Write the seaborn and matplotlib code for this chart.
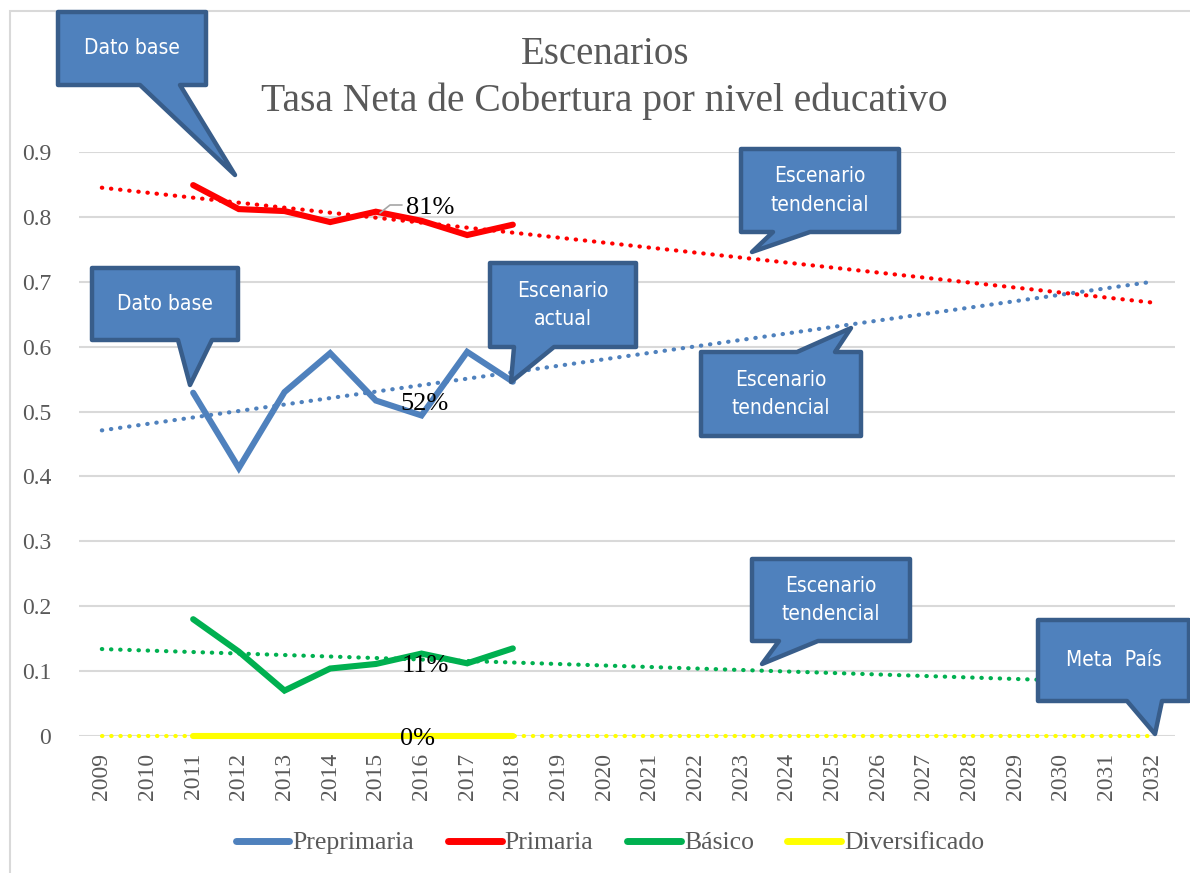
import numpy as np
import pandas as pd
import matplotlib
matplotlib.use("Agg")
import matplotlib.pyplot as plt
from matplotlib.patches import Polygon, Rectangle
from matplotlib.lines import Line2D
import seaborn as sns

# ---------------- data ----------------
years = [str(y) for y in range(2009, 2033)]
data_years = list(range(2011, 2019))
preprimaria = [0.529, 0.413, 0.530, 0.590, 0.517, 0.494, 0.592, 0.546]
primaria = [0.849, 0.812, 0.809, 0.792, 0.808, 0.794, 0.772, 0.788]
basico = [0.180, 0.130, 0.070, 0.104, 0.111, 0.127, 0.112, 0.135]
diversificado = [0.0, 0.0, 0.0, 0.0, 0.0, 0.0, 0.0, 0.0]
series_names = ["Preprimaria", "Primaria", "Básico", "Diversificado"]
series_colors = ["#4F81BD", "#FF0000", "#00B050", "#FFFF00"]
# trend lines at 2009 and 2032
trend_2009 = [0.471, 0.845, 0.134, 0.0]
trend_2032 = [0.700, 0.668, 0.081, 0.0]
pct_labels = ["52%", "81%", "11%", "0%"]
yticks = [0, 0.1, 0.2, 0.3, 0.4, 0.5, 0.6, 0.7, 0.8, 0.9]
ytick_labels = ["0", "0.1", "0.2", "0.3", "0.4", "0.5", "0.6", "0.7", "0.8", "0.9"]
title_lines = ["Escenarios", "Tasa Neta de Cobertura por nivel educativo"]

# ---------------- figure ----------------
sns.set_theme(style="white")
plt.rcParams["font.family"] = ["Liberation Serif", "DejaVu Serif"]
W, H = 1190, 873
fig = plt.figure(figsize=(W / 100, H / 100), dpi=100)
fig.patch.set_facecolor("white")

def fx(x):
    return x / W

def fy(y):
    return 1 - y / H

ax_l, ax_r, ax_t, ax_b = 79, 1175, 152, 736
ax = fig.add_axes([fx(ax_l), fy(ax_b), fx(ax_r) - fx(ax_l), fy(ax_t) - fy(ax_b)])
ax.set_facecolor("white")

# outer border
fig.add_artist(Rectangle((fx(10), fy(873 + 20)), 1.2, fy(11) - fy(893),
                         transform=fig.transFigure, fill=False,
                         edgecolor="#D9D9D9", lw=1.5, zorder=0))

# long-form data
pos = {y: i for i, y in enumerate(range(2009, 2033))}
rows = []
for name, vals in zip(series_names, [preprimaria, primaria, basico, diversificado]):
    for yr, v in zip(data_years, vals):
        rows.append({"pos": pos[yr], "valor": v, "serie": name})
df = pd.DataFrame(rows)

ax.yaxis.grid(True, color="#D9D9D9", lw=1.5)
ax.set_axisbelow(True)

# trend lines
for i, name in enumerate(series_names):
    ax.plot([0, len(years) - 1], [trend_2009[i], trend_2032[i]],
            color=series_colors[i], lw=3, linestyle=(0, (0.1, 2.1)),
            dash_capstyle="round", zorder=3, clip_on=False)

sns.lineplot(data=df, x="pos", y="valor", hue="serie", hue_order=series_names,
             palette=series_colors, lw=4.4, ax=ax, legend=False, zorder=4,
             solid_capstyle="round", solid_joinstyle="miter")
for ln in ax.get_lines():
    ln.set_clip_on(False)

ax.set_xlim(-0.5, len(years) - 0.5)
ax.set_ylim(0, 0.9)
ax.set_xticks(range(len(years)))
ax.set_xticklabels(years, rotation=90, fontsize=17, color="#595959")
ax.set_yticks(yticks)
ax.set_yticklabels(ytick_labels, fontsize=17, color="#595959")
ax.tick_params(axis="x", length=0, pad=12)
ax.tick_params(axis="y", length=0, pad=20)
ax.set_xlabel("")
ax.set_ylabel("")
for s in ax.spines.values():
    s.set_visible(False)

# percentage data labels
lab_pos = {"81%": (430, 208), "52%": (425, 404), "11%": (425, 666), "0%": (418, 739)}
for lab in pct_labels:
    x, y = lab_pos[lab]
    fig.text(fx(x), fy(y), lab, ha="center", va="center", fontsize=19,
             color="black", zorder=6)
fig.add_artist(Line2D([fx(380), fx(390), fx(402)], [fy(213), fy(205), fy(205)],
                      transform=fig.transFigure, color="#A6A6A6", lw=1.2, zorder=6))

# title
fig.text(fx(605), fy(55), title_lines[0], ha="center", va="center",
         fontsize=28, color="#595959")
fig.text(fx(604), fy(101), title_lines[1], ha="center", va="center",
         fontsize=28.5, color="#595959")

# legend
handles = [Line2D([0], [0], color=c, lw=5, solid_capstyle="round") for c in series_colors]
fig.legend(handles, series_names, loc="center", bbox_to_anchor=(fx(610), fy(843)),
           ncol=4, frameon=False, fontsize=18.5, handlelength=2.1, handletextpad=0.12,
           columnspacing=1.3, labelcolor="#595959")

# callouts
FILL, EDGE = "#4F81BD", "#385D8A"
CFONT = ["DejaVu Sans", "Liberation Sans"]

def callout(box, edge, b0, b1, tip, text, size=15):
    x0, y0, x1, y1 = box
    if edge == "bottom":
        pts = [(x0, y0), (x1, y0), (x1, y1), (b1, y1), tip, (b0, y1), (x0, y1)]
    else:  # top
        pts = [(x0, y0), (b0, y0), tip, (b1, y0), (x1, y0), (x1, y1), (x0, y1)]
    poly = Polygon([(fx(a), fy(b)) for a, b in pts], closed=True,
                   transform=fig.transFigure, facecolor=FILL, edgecolor=EDGE,
                   lw=3.2, joinstyle="round", zorder=8)
    fig.add_artist(poly)
    fig.text(fx((x0 + x1) / 2), fy((y0 + y1) / 2), text, ha="center", va="center",
             color="white", fontsize=size, family=CFONT, fontstretch="condensed",
             linespacing=1.55, zorder=9)

callout((58, 12, 206, 85), "bottom", 140, 180, (235, 175), "Dato base")
callout((92, 268, 238, 340), "bottom", 178, 212, (190, 385), "Dato base")
callout((490, 263, 636, 347), "bottom", 514, 554, (511, 382), "Escenario\nactual")
callout((741, 149, 899, 232), "bottom", 773, 810, (752, 252), "Escenario\ntendencial")
callout((701, 352, 861, 436), "top", 797, 835, (851, 328), "Escenario\ntendencial")
callout((752, 559, 910, 641), "bottom", 779, 818, (762, 664), "Escenario\ntendencial")
callout((1038, 620, 1189, 701), "bottom", 1127, 1162, (1155, 734), "Meta  País")

fig.savefig("out.png", dpi=100, facecolor="white")
